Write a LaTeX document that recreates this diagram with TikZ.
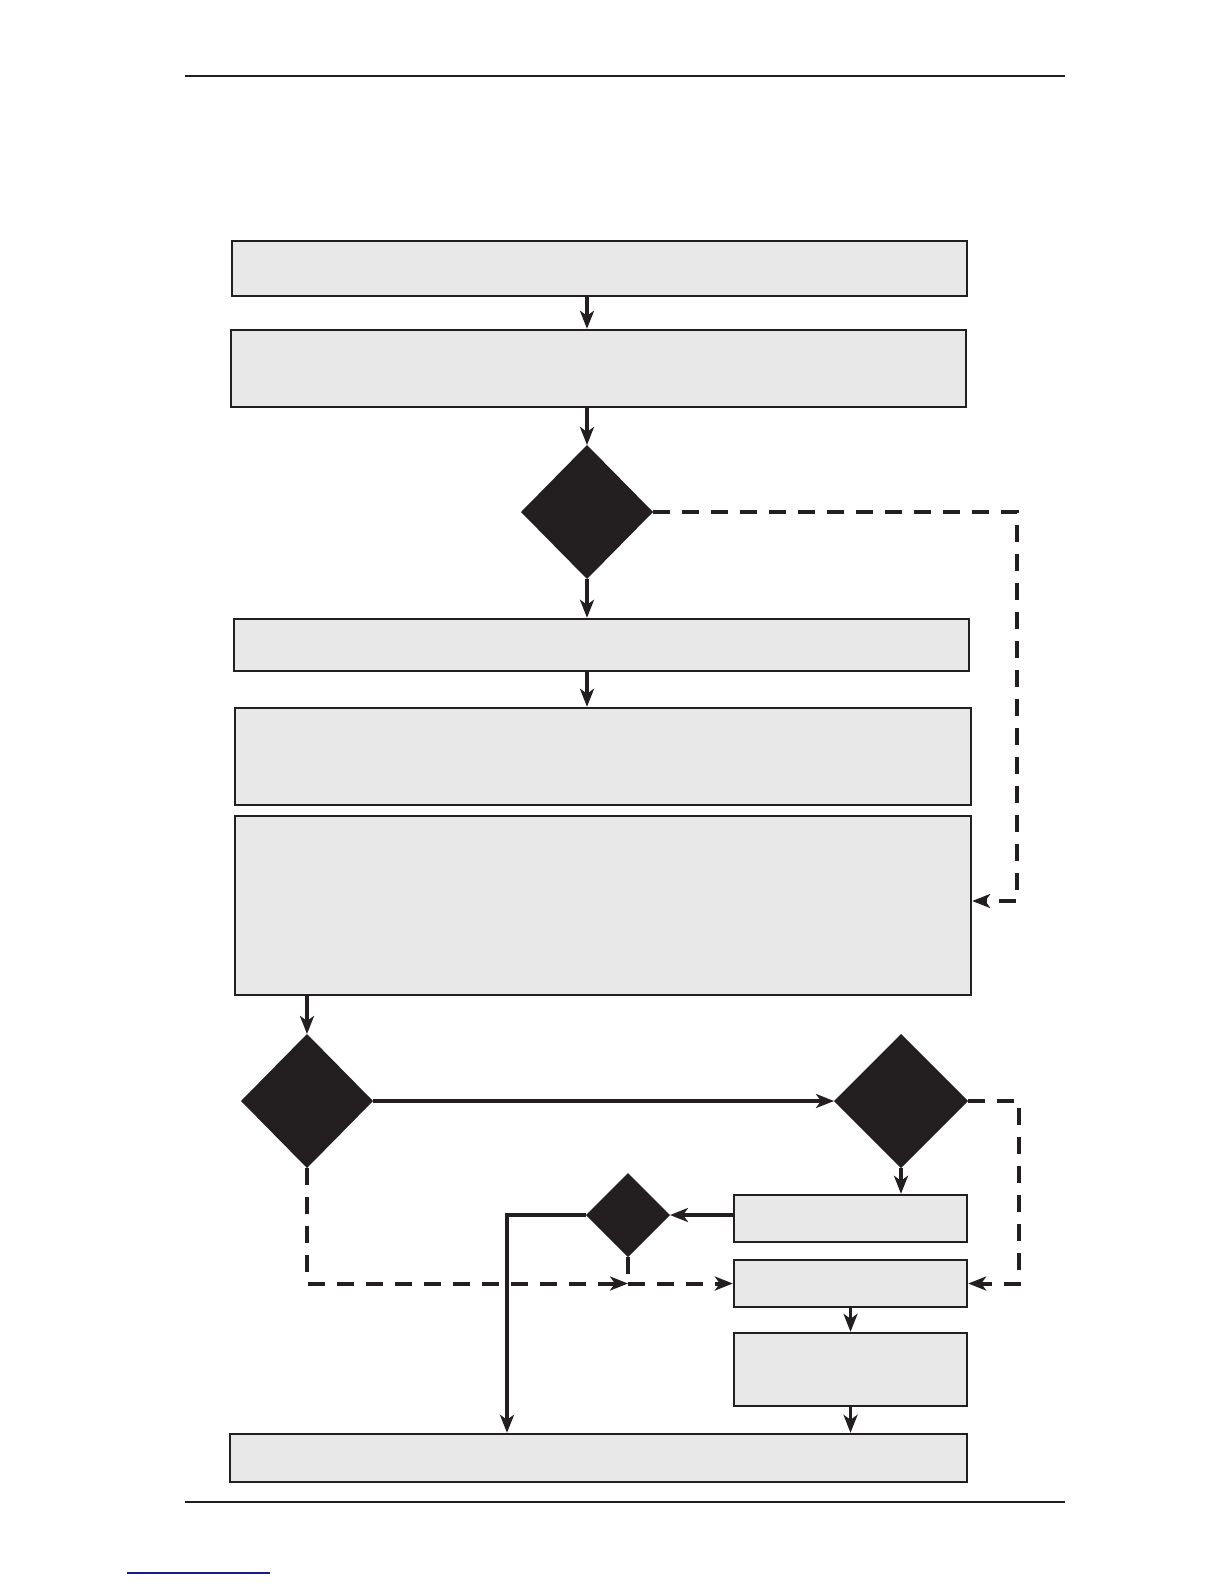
\documentclass[tikz,border=0pt]{standalone}
\usepackage{tikz}
\usetikzlibrary{shapes.geometric,arrows.meta}
\definecolor{ink}{HTML}{231F20}
\definecolor{boxgray}{HTML}{E8E8E8}
\definecolor{linkblue}{HTML}{1A1A8C}

\begin{document}
\begin{tikzpicture}[
        x=0.5pt, y=-0.5pt, >={Stealth[length=9pt, width=7pt, inset=2.5pt]},
        box/.style={rectangle, draw=ink, fill=boxgray, line width=1.2pt, inner sep=0pt},
        dia/.style={diamond, fill=ink, inner sep=0pt, outer sep=0pt},
        flow/.style={draw=ink, line width=1.8pt},
        alt/.style={flow, line width=2pt, dash pattern=on 8.5pt off 6pt},
        rule/.style={draw=ink, line width=0.9pt}
      ]
        \useasboundingbox (0,0) rectangle (1224,1584);
        % page rules
        \draw[rule] (185,76) -- (1065,76);
        \draw[rule] (185,1502) -- (1065,1502);
        \draw[linkblue, line width=0.8pt] (127,1573) -- (270,1573);
        % boxes
        \node[box, minimum width=367.5pt, minimum height=27.5pt] (1) at (599.5,268.5) {};
        \node[box, minimum width=367.5pt, minimum height=38.5pt] (2) at (598.5,368.5) {};
        \node[box, minimum width=367.5pt, minimum height=26pt] (3) at (601.5,645) {};
        \node[box, minimum width=368pt, minimum height=48.5pt] (4) at (603,756.5) {};
        \node[box, minimum width=368pt, minimum height=89.5pt] (5) at (603,905.5) {};
        \node[box, minimum width=116.5pt, minimum height=23.5pt] (6) at (850.5,1218.5) {};
        \node[box, minimum width=116.5pt, minimum height=23.5pt] (7) at (850.5,1283.5) {};
        \node[box, minimum width=116.5pt, minimum height=36.5pt] (8) at (850.5,1369.5) {};
        \node[box, minimum width=368.5pt, minimum height=24pt] (9) at (598.5,1458) {};
        % decisions
        \node[dia, minimum width=66pt, minimum height=67pt] (d1) at (587,512) {};
        \node[dia, minimum width=66pt, minimum height=67pt] (d2) at (307,1101) {};
        \node[dia, minimum width=67pt, minimum height=67pt] (d3) at (901,1101) {};
        \node[dia, minimum width=42pt, minimum height=42pt] (d4) at (628,1215) {};
        \coordinate (r1) at (1017,512);
        \coordinate (r2) at (1019,1101);
        \coordinate (l1) at (507,1215);
        \coordinate (j) at (d4 |- 7.west);
        % connectors
        \draw[flow,->] (1.south -| d1) -- (2.north -| d1);
        \draw[flow,->] (2.south -| d1) -- (d1.north);
        \draw[flow,->] (d1.south) -- (3.north -| d1);
        \draw[flow,->] (3.south -| d1) -- (4.north -| d1);
        \draw[alt,->] (d1.east) -- (r1) |- ([yshift=2.25pt]5.east);
        \draw[flow,->] (5.south -| d2) -- (d2.north);
        \draw[flow,->] (d2.east) -- (d3.west);
        \draw[flow,->] (d3.south) -- (6.north -| d3);
        \draw[alt,->] (d3.east) -- (r2) |- (7.east);
        \draw[flow,->] (6.west |- d4) -- (d4.east);
        \draw[flow,->] (d4.west) -- (l1) -- (l1 |- 9.north);
        \draw[alt,->] (d2.south) |- (j);
        \draw[alt] (d4.south) -- (j);
        \draw[alt,->] (j) -- (7.west);
        \draw[flow,->] (7.south) -- (8.north);
        \draw[flow,->] (8.south) -- (9.north -| 8);
      \end{tikzpicture}
\end{document}
